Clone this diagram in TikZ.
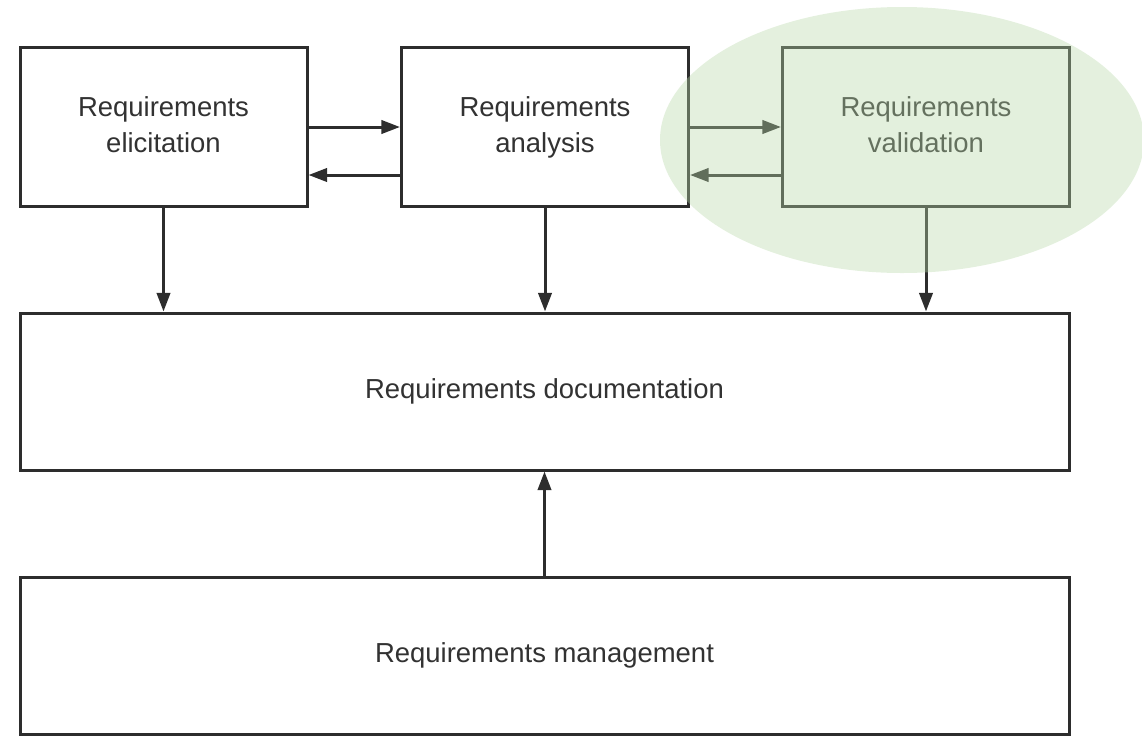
\documentclass[tikz,border=0pt]{standalone}
\usepackage{fontspec}
\setmainfont{Liberation Sans}
\usetikzlibrary{arrows.meta}
\definecolor{linec}{RGB}{45,45,45}
\definecolor{textc}{RGB}{50,50,50}
\definecolor{hilite}{RGB}{184,216,168}
\tikzset{
  box/.style={draw=linec, line width=2.25pt, fill=white, rectangle, align=center,
    text=textc, font=\fontsize{20.6}{27}\selectfont, inner sep=0pt},
  smallbox/.style={box, minimum width=215.25pt, minimum height=119.25pt},
  widebox/.style={box, minimum width=786.75pt, minimum height=117.75pt},
  arr/.style={draw=linec, line width=2.25pt, -{Triangle[length=14pt,width=10pt]}},
}
\begin{document}
\begin{tikzpicture}[x=0.75pt, y=-0.75pt]
\useasboundingbox (0,0) rectangle (1142,736);
\clip (0,0) rectangle (1142,736);
\node[smallbox] (eli) at (163.5,127) {\strut Requirements\\\strut elicitation};
\node[smallbox] (ana) at (545,127) {\strut Requirements\\\strut analysis};
\node[smallbox] (val) at (926,127) {\strut Requirements\\\strut validation};
\node[widebox] (doc) at (544.5,391.5) {\strut Requirements documentation};
\node[widebox] (man) at (544.5,655.5) {\strut Requirements management};
\draw[arr] (eli.east) -- (ana.west);
\draw[arr] ([yshift=-36pt]ana.west) -- ([yshift=-36pt]eli.east);
\draw[arr] (ana.east) -- (val.west);
\draw[arr] ([yshift=-36pt]val.west) -- ([yshift=-36pt]ana.east);
\draw[arr] (eli.south) -- (eli.south |- doc.north);
\draw[arr] (ana.south) -- (ana.south |- doc.north);
\draw[arr] (val.south) -- (val.south |- doc.north);
\draw[arr] (man.north) -- (doc.south);
\fill[hilite, fill opacity=0.38] (902,140) ellipse [x radius=242, y radius=133];
\end{tikzpicture}
\end{document}
